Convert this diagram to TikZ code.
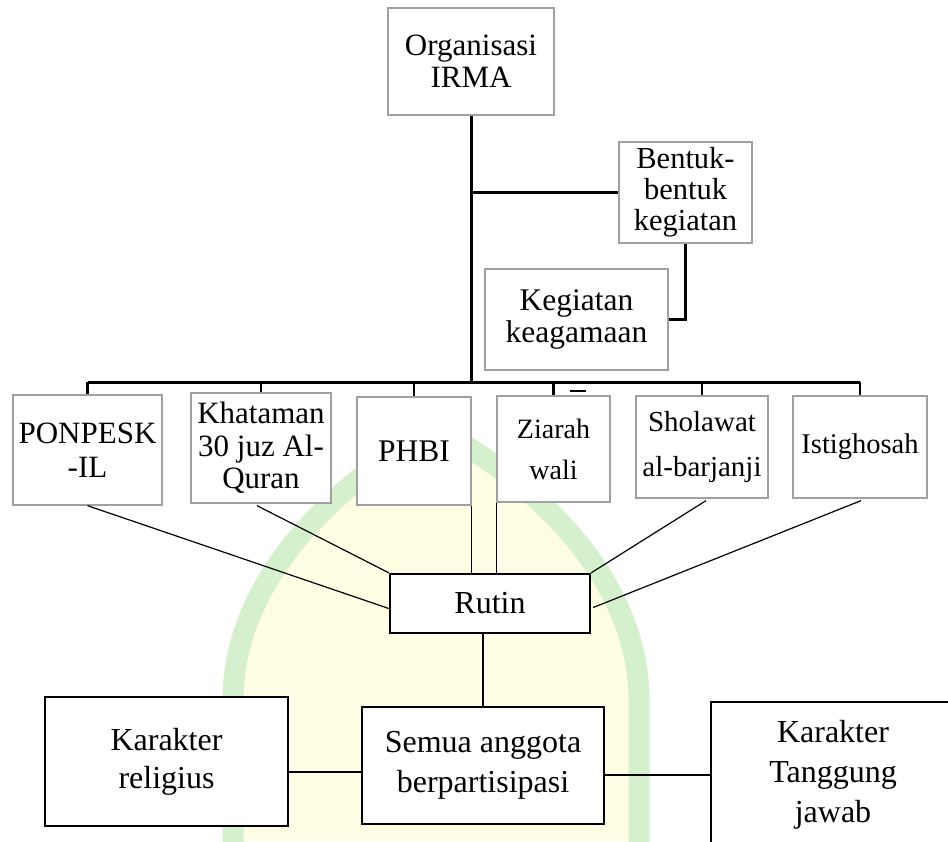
\documentclass[tikz,border=0pt]{standalone}
\usepackage{fontspec}
\setmainfont{Liberation Serif}
\usetikzlibrary{calc}
\definecolor{wmgreen}{RGB}{212,240,204}
\definecolor{wmyellow}{RGB}{255,253,228}
\definecolor{boxgray}{RGB}{160,160,160}
\newcommand{\fsz}[2]{\fontsize{#1}{#2}\selectfont}
\tikzset{
  graybox/.style={draw=boxgray, line width=1.3pt, fill=white, inner sep=0pt, align=center, text=black},
  blackbox/.style={draw=black, line width=2.4pt, fill=white, inner sep=0pt, align=center, text=black},
  trunkline/.style={line width=3pt},
  dropline/.style={line width=2.4pt},
  thinline/.style={line width=1.2pt},
}
\begin{document}
\begin{tikzpicture}[x=1pt,y=-1pt]
\useasboundingbox (0,0) rectangle (948,841);
\clip (0,0) rectangle (948,841);
% watermark
\fill[wmyellow] (233,841) -- (233,700) .. controls (233,560) and (372,460) .. (436,430)
   .. controls (500,460) and (639,560) .. (639,700) -- (639,841) -- cycle;
\draw[wmgreen, line width=21pt] (233,860) -- (233,700) .. controls (233,560) and (372,460) .. (436,430)
   .. controls (500,460) and (639,560) .. (639,700) -- (639,860);
% top nodes
\node[graybox, minimum width=166pt, minimum height=107pt, font=\fsz{31}{32}] (org) at (471,61.5) {Organisasi\\IRMA};
\node[graybox, minimum width=133pt, minimum height=101pt, font=\fsz{30.5}{31}] (bentuk) at (685.5,192.5) {Bentuk-\\bentuk\\kegiatan};
\node[graybox, minimum width=183pt, minimum height=101pt, font=\fsz{31.5}{32}] (keg) at (576.5,319.5) {Kegiatan\\keagamaan};
% row of activities
\node[graybox, minimum width=149pt, minimum height=110pt, font=\fsz{31}{34}] (ponpesk) at (87.5,450) {PONPESK\\-IL};
\node[graybox, minimum width=140pt, minimum height=110pt, font=\fsz{31}{32.5}] (khat) at (261,448) {Khataman\\30 juz Al-\\Quran};
\node[graybox, minimum width=114pt, minimum height=108pt, font=\fsz{31.5}{32}] (phbi) at (414,451) {PHBI};
\node[graybox, minimum width=113pt, minimum height=106pt, font=\fsz{28}{41}] (ziarah) at (553.5,449) {Ziarah\\wali};
\node[graybox, minimum width=132pt, minimum height=102pt, font=\fsz{29}{45}] (sholawat) at (702,447) {Sholawat\\al-barjanji};
\node[graybox, minimum width=134pt, minimum height=102pt, font=\fsz{28.5}{32}] (istig) at (860,447) {Istighosah};
% lower nodes
\node[blackbox, minimum width=200pt, minimum height=59pt, font=\fsz{32}{34}] (rutin) at (490,603.5) {Rutin};
\node[blackbox, minimum width=242pt, minimum height=117pt, font=\fsz{32}{40}] (semua) at (483,765.5) {Semua anggota\\berpartisipasi};
\node[blackbox, minimum width=243pt, minimum height=129pt, font=\fsz{32}{38}] (religius) at (166.5,761.5) {Karakter\\religius};
\node[blackbox, minimum width=244pt, minimum height=146pt, font=\fsz{32}{40}] (tanggung) at (833,775) {Karakter\\Tanggung\\jawab};
% structure lines
\coordinate (bar) at (0,382);
\draw[trunkline] (org.south) -- (org.south |- bar);
\draw[dropline] (org.south |- bentuk.west) -- (bentuk.west);
\draw[dropline] (bentuk.south) |- (keg.east);
\draw[trunkline] (ponpesk.north |- bar) -- (istig.north |- bar);
\foreach \n in {ponpesk,khat,phbi,ziarah,sholawat,istig}
  \draw[dropline] (\n.north |- bar) -- (\n.north);
\coordinate (dashA) at (570,391);
\coordinate (dashB) at (586,391);
\draw[line width=1.5pt] (dashA) -- (dashB);
% to Rutin
\draw[thinline] (ponpesk.south) -- ($(rutin.west)+(0,5)$);
\draw[thinline] ($(khat.south)+(-4,2)$) -- (rutin.north west);
\draw[thinline] (phbi.south east) -- (phbi.south east |- rutin.north);
\draw[thinline] (ziarah.south west) -- (ziarah.south west |- rutin.north);
\draw[thinline] ($(sholawat.south)+(4,2)$) -- (rutin.north east);
\draw[thinline] ($(istig.south)+(1,2)$) -- ($(rutin.east)+(2,4)$);
\draw[thinline] (semua.north |- rutin.south) -- (semua.north);
\coordinate (relY) at ($(semua.west)+(0,6.5)$);
\draw[thinline] (religius.east |- relY) -- (relY);
\draw[thinline] (semua.east |- tanggung.west) -- (tanggung.west);
\end{tikzpicture}
\end{document}
